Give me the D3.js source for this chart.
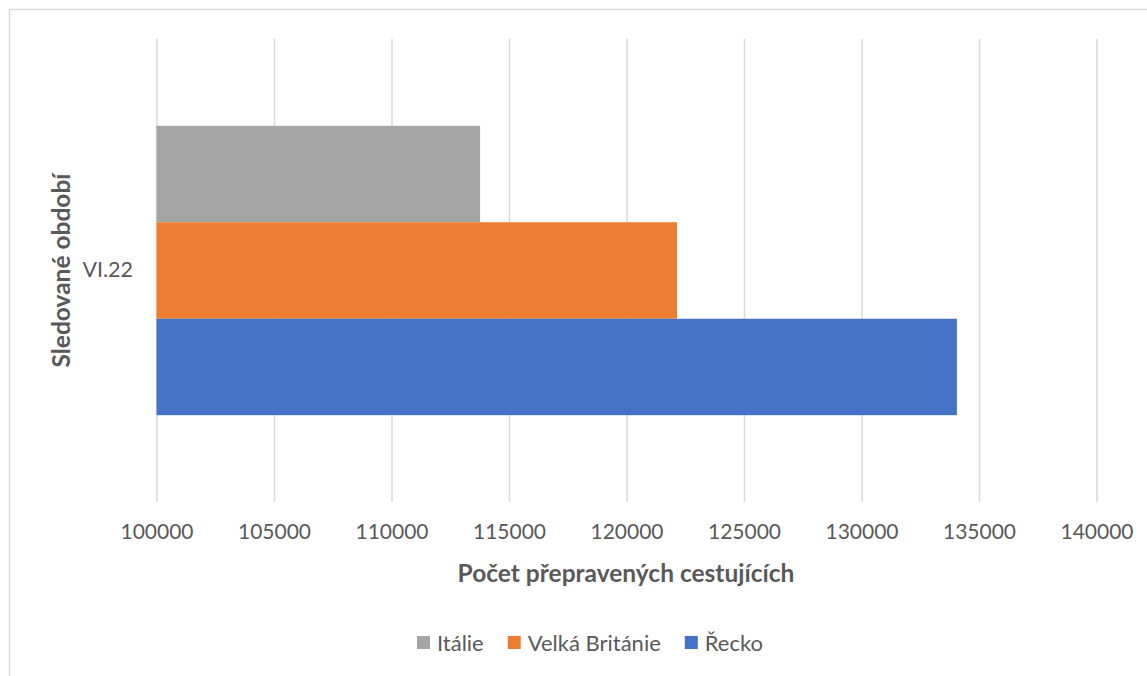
<!DOCTYPE html>
<html>
<head>
<meta charset="utf-8">
<script src="https://cdn.jsdelivr.net/npm/d3@7"></script>
<style>
  html, body { margin: 0; padding: 0; background: #fff; }
  svg { display: block; }
  text { font-family: Lato, "Open Sans", sans-serif; fill: #595959; }
</style>
</head>
<body>
<svg id="chart" width="1147" height="676"></svg>
<script>
// Passenger counts for June 2022, by destination country
const categories = ["VI.22"];
const seriesNames = ["Itálie", "Velká Británie", "Řecko"];
const seriesValues = [113770, 122150, 134060];
const seriesColors = ["#a5a5a5", "#ed7d31", "#4472c4"];
const xTicks = [100000, 105000, 110000, 115000, 120000, 125000, 130000, 135000, 140000];

const svg = d3.select("#chart");

// outer chart frame
svg.append("rect")
  .attr("x", 9.5).attr("y", 9.5)
  .attr("width", 1160).attr("height", 700)
  .attr("fill", "#fff").attr("stroke", "#d9d9d9").attr("stroke-width", 1.5);

const plot = { left: 156.5, right: 1096.5, top: 39, bottom: 502 };

const x = d3.scaleLinear()
  .domain([xTicks[0], xTicks[xTicks.length - 1]])
  .range([plot.left, plot.right]);

const yCat = d3.scaleBand()
  .domain(categories)
  .range([plot.top, plot.bottom])
  .paddingInner(0).paddingOuter(0.3);

const ySeries = d3.scaleBand()
  .domain(seriesNames)
  .range([0, yCat.bandwidth()]);

// vertical gridlines with tick labels
const xAxis = d3.axisBottom(x)
  .tickValues(xTicks)
  .tickFormat(d3.format("d"))
  .tickSize(-(plot.bottom - plot.top))
  .tickPadding(22.5);

const gx = svg.append("g")
  .attr("transform", `translate(0,${plot.bottom})`)
  .call(xAxis);
gx.select(".domain").remove();
gx.selectAll(".tick line").attr("stroke", "#d9d9d9").attr("stroke-width", 1.5);
gx.selectAll(".tick text")
  .style("font-size", "21px")
  .style("fill", "#595959")
  .style("font-family", "Lato, 'Open Sans', sans-serif");

// bars
const rows = categories.flatMap(c => seriesNames.map((s, i) => ({ cat: c, name: s, value: seriesValues[i], color: seriesColors[i] })));
svg.append("g").selectAll("rect")
  .data(rows)
  .join("rect")
  .attr("x", x(xTicks[0]))
  .attr("y", d => yCat(d.cat) + ySeries(d.name))
  .attr("width", d => x(d.value) - x(xTicks[0]))
  .attr("height", ySeries.bandwidth())
  .attr("fill", d => d.color);

// category label
const gy = svg.append("g")
  .attr("transform", `translate(${plot.left},0)`)
  .call(d3.axisLeft(yCat).tickSize(0).tickPadding(23.5));
gy.select(".domain").remove();
gy.selectAll(".tick text")
  .style("font-size", "21.5px")
  .style("fill", "#595959")
  .style("font-family", "Lato, 'Open Sans', sans-serif");

// axis titles
svg.append("text")
  .attr("x", 626)
  .attr("y", 582)
  .attr("text-anchor", "middle")
  .style("font-size", "24.5px")
  .style("font-weight", "bold")
  .text("Počet přepravených cestujících");

svg.append("text")
  .attr("transform", `translate(70,${(plot.top + plot.bottom) / 2}) rotate(-90)`)
  .attr("text-anchor", "middle")
  .style("font-size", "24.5px")
  .style("font-weight", "bold")
  .text("Sledované období");

// legend
const legendItems = seriesNames.map((s, i) => ({ name: s, color: seriesColors[i] }));
const legend = svg.append("g");
let lx = 0;
legendItems.forEach(item => {
  const g = legend.append("g").attr("transform", `translate(${lx},0)`);
  g.append("rect").attr("x", 0).attr("y", -7).attr("width", 13).attr("height", 13).attr("fill", item.color);
  const t = g.append("text").attr("x", 20).attr("y", 7.5)
    .style("font-size", "22px").text(item.name);
  lx += 20 + t.node().getComputedTextLength() + 24;
});
const legendWidth = lx - 24;
legend.attr("transform", `translate(${(417 + 763) / 2 - legendWidth / 2},643)`);
</script>
</body>
</html>
